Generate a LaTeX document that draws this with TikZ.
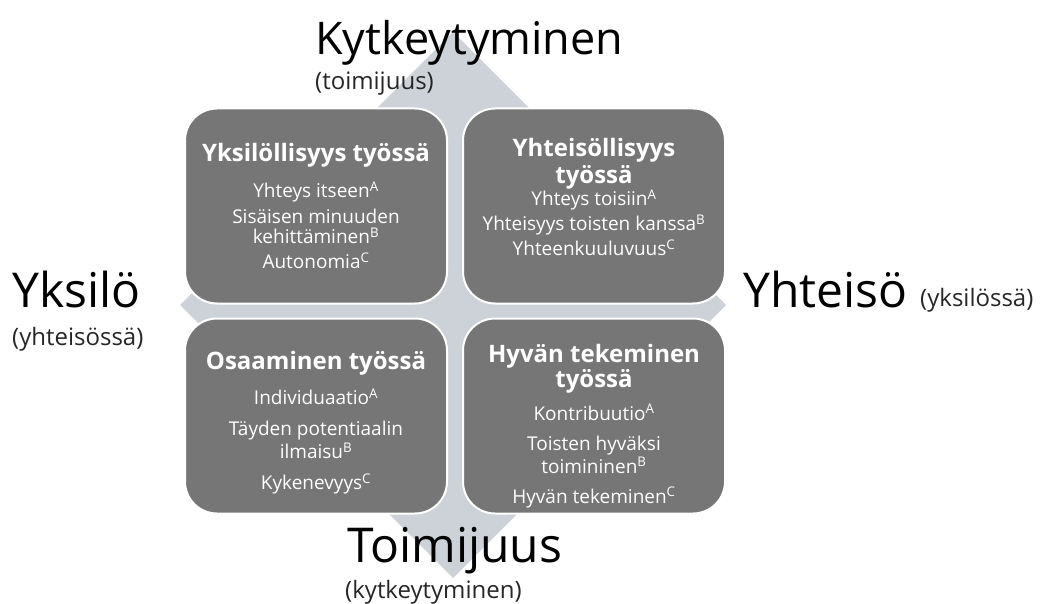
\documentclass[tikz,border=0pt]{standalone}
\usepackage{fontspec}
\setmainfont{Open Sans}
\usepackage{xcolor}
\usetikzlibrary{positioning}

\definecolor{crossgray}{HTML}{CDD2D8}
\definecolor{boxgray}{HTML}{767676}
\newcommand{\boxfont}{\fontsize{19}{19}\selectfont\lineskiplimit=-30pt\relax}
\newcommand{\boxtitle}[1]{{\bfseries\fontsize{24}{24}\selectfont #1}}
\newcommand{\lift}[1]{\rule[-#1]{0pt}{#1}}
\newcommand{\drop}[1]{\rule{0pt}{#1}}

\begin{document}
\begin{tikzpicture}[
  x=1pt, y=-1pt,
  box/.style={draw=white, line width=2pt, fill=boxgray, rounded corners=32pt, minimum width=262pt, minimum height=195pt, outer sep=0pt, inner sep=0pt, align=center, text=white, font=\boxfont},
  axis/.style={font=\fontsize{48}{52}\selectfont, inner sep=0pt, anchor=base west},
  axsub/.style={font=\fontsize{24}{26}\selectfont, text=black!85, inner sep=0pt, anchor=base west}
]
\useasboundingbox (0,0) rectangle (1042,604);

\fill[crossgray] (453,32) -- (576,155) -- (515,155) -- (515,243) -- (603,243) -- (603,182)
  -- (726,305) -- (603,428) -- (603,367) -- (515,367) -- (515,455) -- (576,455)
  -- (453,578) -- (330,455) -- (391,455) -- (391,367) -- (303,367) -- (303,428)
  -- (180,305) -- (303,182) -- (303,243) -- (391,243) -- (391,155) -- (330,155) -- cycle;

\node[box] (yks) at (316,206) {\boxtitle{Yksilöllisyys työssä}\\[17pt]
  Yhteys itseen\textsuperscript{A}\\[7pt]
  Sisäisen minuuden\\[1pt]kehittäminen\textsuperscript{B}\\[6pt]
  Autonomia\textsuperscript{C}};
\node[box, right=16pt of yks] (yht) {\boxtitle{Yhteisöllisyys}\\[8pt]\boxtitle{työssä}\\[3pt]
  Yhteys toisiin\textsuperscript{A}\\[6pt]
  Yhteisyys toisten kanssa\textsuperscript{B}\\[6pt]
  Yhteenkuuluvuus\textsuperscript{C}\lift{18pt}};
\node[box, below=15pt of yks] (osa) {\drop{32pt}\boxtitle{Osaaminen työssä}\\[16pt]
  Individuaatio\textsuperscript{A}\\[12pt]
  Täyden potentiaalin\\[4pt]ilmaisu\textsuperscript{B}\\[12pt]
  Kykenevyys\textsuperscript{C}};
\node[box, below=15pt of yht] (hyv) {\drop{38pt}\boxtitle{Hyvän tekeminen}\\[6pt]\boxtitle{työssä}\\[14pt]
  Kontribuutio\textsuperscript{A}\\[11pt]
  Toisten hyväksi\\[4pt]toimininen\textsuperscript{B}\\[11pt]
  Hyvän tekeminen\textsuperscript{C}};

\node[axis, font=\fontsize{45}{50}\selectfont] (kyt) at (315,55) {Kytkeytyminen};
\node[axsub] (kytsub) at (315,90) {(toimijuus)};
\node[axis] (ykl) at (12,307) {Yksilö};
\node[axsub] (yklsub) at (12,345) {(yhteisössä)};
\node[axis] (yhs) at (743,307) {Yhteisö};
\node[axsub] (yhssub) at (920,306) {(yksilössä)};
\node[axis] (toi) at (347,562) {Toimijuus};
\node[axsub] (toisub) at (345,598) {(kytkeytyminen)};

\end{tikzpicture}
\end{document}
